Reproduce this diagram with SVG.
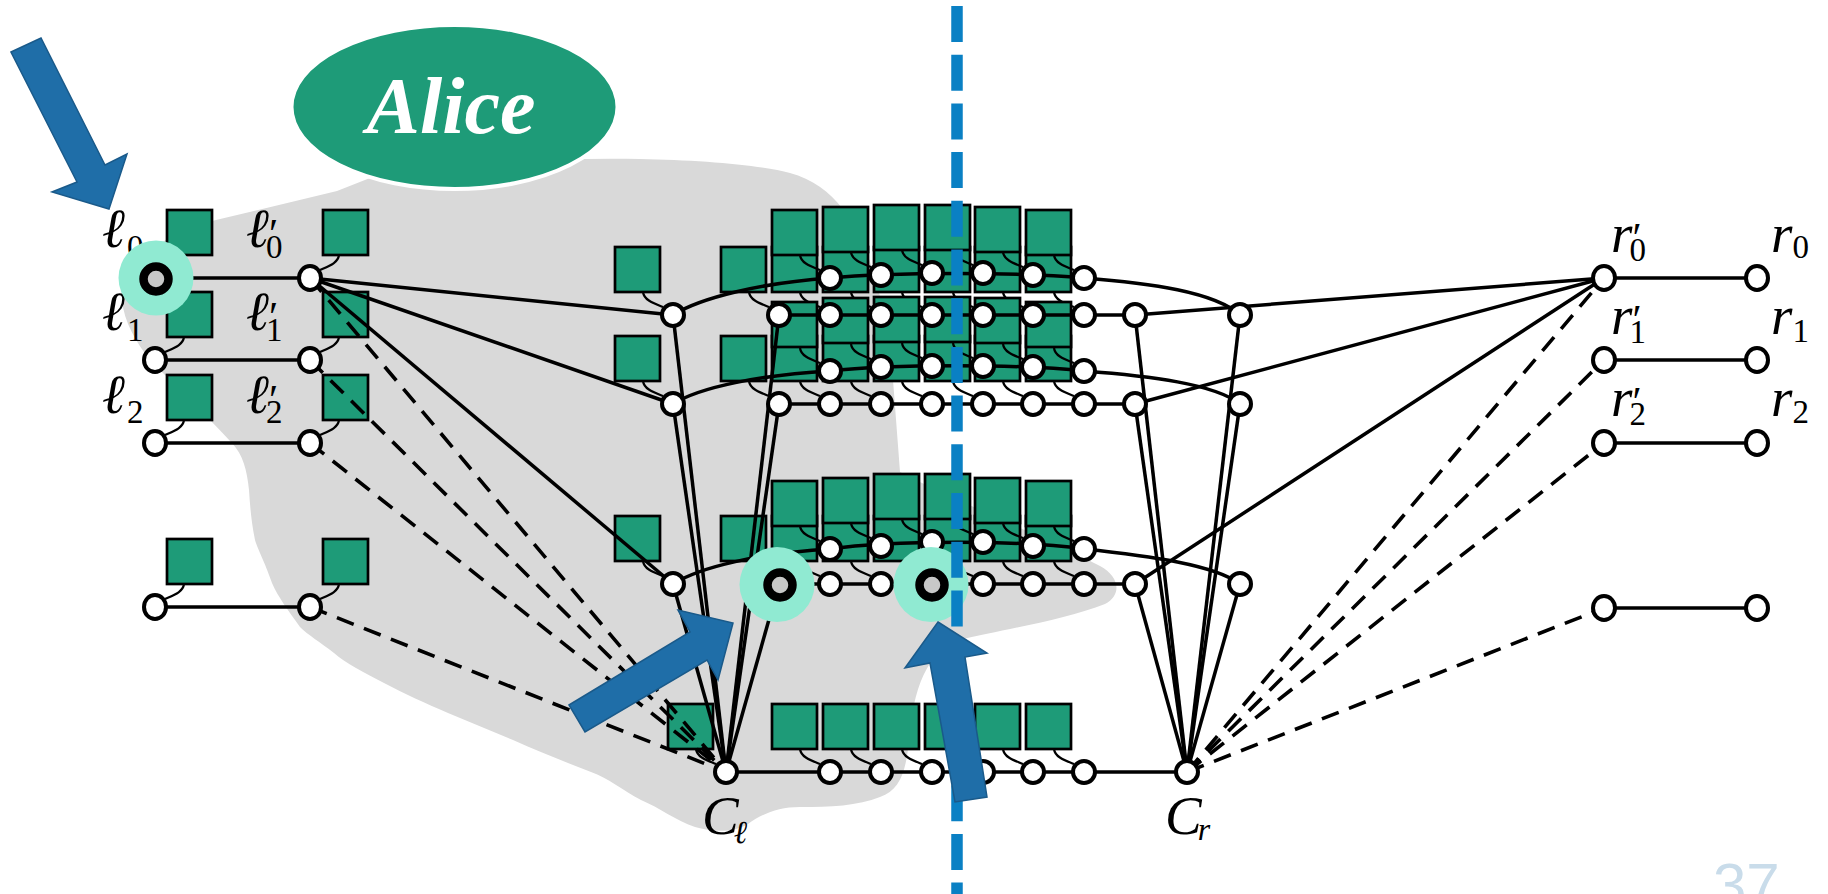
<svg xmlns="http://www.w3.org/2000/svg" xmlns:xlink="http://www.w3.org/1999/xlink" width="1828" height="894" viewBox="0 0 1828 894">
<style>
.sq{fill:#1E9B78;stroke:#000;stroke-width:2.7}
.cv{fill:none;stroke:#000;stroke-width:2.2}
.e{fill:none;stroke:#000;stroke-width:3.5}
.d{fill:none;stroke:#000;stroke-width:3.6;stroke-dasharray:18 11}
.n{fill:#fff;stroke:#000;stroke-width:4}
.m{font-family:"Liberation Serif","DejaVu Serif",serif;font-style:italic;font-size:55px;fill:#000}
.pr{font-style:normal;font-size:42px}
.sb{font-style:normal;font-size:33px}
.sl{font-style:italic;font-size:32px}
.hl{fill:#90EAD2}
.hr{fill:#C8C8C8;stroke:#000;stroke-width:8.5}
.ar{fill:#1F6EA8;stroke:#1A5A8A;stroke-width:1.5}
</style>
<defs>
<rect id="sq" class="sq" width="45" height="45"/>
<path id="cg" class="cv" d="M-30,-23c1,8 10,11 20,15"/>
<path id="cl" class="cv" d="M29,-23c-1,8 -10,11 -19,15"/>
</defs>

<path id="region" fill="#D9D9D9" d="M122,300 C126,262 165,232 216,220 L337,191 L370,178 C430,162 540,158 640,159 C700,160 760,165 790,173 C812,179 830,192 842,208 C868,240 886,300 893,380 L900,472 C950,498 1055,542 1100,566 C1120,577 1122,595 1105,604 C1065,620 1000,630 960,640 C927,650 913,690 909,740 C906,772 900,790 880,797 C858,806 830,807 800,807 C778,807 762,814 748,824 C733,833 712,832 695,827 C675,820 660,808 641,800 C622,790 608,778 591,772 C565,762 540,752 513,740 L448,713 C425,703 405,694 384,683 C365,673 345,663 334,653 C320,642 308,635 300,627 C288,610 278,597 272,583 C264,560 258,550 255,540 C251,520 250,505 249,490 C247,470 243,455 232,443 C213,422 175,385 150,360 C136,342 124,322 122,300 Z"/>

<g id="alice">
<ellipse cx="454.5" cy="107" rx="163" ry="82" fill="#1E9B78" stroke="#fff" stroke-width="4"/>
<text x="451" y="133" text-anchor="middle" font-family="Liberation Serif, DejaVu Serif, serif" font-style="italic" font-weight="bold" font-size="80" fill="#fff">Alice</text>
</g>

<g id="boxes">
<use xlink:href="#sq" x="167" y="210"/><use xlink:href="#cl" x="155" y="278"/>
<use xlink:href="#sq" x="167" y="292"/><use xlink:href="#cl" x="155" y="360"/>
<use xlink:href="#sq" x="167" y="375"/><use xlink:href="#cl" x="155" y="443"/>
<use xlink:href="#sq" x="167" y="539"/><use xlink:href="#cl" x="155" y="607"/>
<use xlink:href="#sq" x="323" y="210"/><use xlink:href="#cl" x="310" y="278"/>
<use xlink:href="#sq" x="323" y="292"/><use xlink:href="#cl" x="310" y="360"/>
<use xlink:href="#sq" x="323" y="375"/><use xlink:href="#cl" x="310" y="443"/>
<use xlink:href="#sq" x="323" y="539"/><use xlink:href="#cl" x="310" y="607"/>
<use xlink:href="#sq" x="615" y="247"/><use xlink:href="#cg" x="673" y="315"/>
<use xlink:href="#sq" x="721" y="247"/><use xlink:href="#cg" x="779" y="315"/>
<use xlink:href="#sq" x="772" y="247"/><use xlink:href="#cg" x="830" y="315"/>
<use xlink:href="#sq" x="823" y="247"/><use xlink:href="#cg" x="881" y="315"/>
<use xlink:href="#sq" x="874" y="247"/><use xlink:href="#cg" x="932" y="315"/>
<use xlink:href="#sq" x="925" y="247"/><use xlink:href="#cg" x="983" y="315"/>
<use xlink:href="#sq" x="975" y="247"/><use xlink:href="#cg" x="1033" y="315"/>
<use xlink:href="#sq" x="1026" y="247"/><use xlink:href="#cg" x="1084" y="315"/>
<use xlink:href="#sq" x="772" y="210"/><use xlink:href="#cg" x="830" y="278"/>
<use xlink:href="#sq" x="823" y="207"/><use xlink:href="#cg" x="881" y="275"/>
<use xlink:href="#sq" x="874" y="205"/><use xlink:href="#cg" x="932" y="273"/>
<use xlink:href="#sq" x="925" y="205"/><use xlink:href="#cg" x="983" y="273"/>
<use xlink:href="#sq" x="975" y="207"/><use xlink:href="#cg" x="1033" y="275"/>
<use xlink:href="#sq" x="1026" y="210"/><use xlink:href="#cg" x="1084" y="278"/>
<use xlink:href="#sq" x="615" y="336"/><use xlink:href="#cg" x="673" y="404"/>
<use xlink:href="#sq" x="721" y="336"/><use xlink:href="#cg" x="779" y="404"/>
<use xlink:href="#sq" x="772" y="336"/><use xlink:href="#cg" x="830" y="404"/>
<use xlink:href="#sq" x="823" y="336"/><use xlink:href="#cg" x="881" y="404"/>
<use xlink:href="#sq" x="874" y="336"/><use xlink:href="#cg" x="932" y="404"/>
<use xlink:href="#sq" x="925" y="336"/><use xlink:href="#cg" x="983" y="404"/>
<use xlink:href="#sq" x="975" y="336"/><use xlink:href="#cg" x="1033" y="404"/>
<use xlink:href="#sq" x="1026" y="336"/><use xlink:href="#cg" x="1084" y="404"/>
<use xlink:href="#sq" x="772" y="302"/><use xlink:href="#cg" x="830" y="371"/>
<use xlink:href="#sq" x="823" y="298"/><use xlink:href="#cg" x="881" y="367"/>
<use xlink:href="#sq" x="874" y="297"/><use xlink:href="#cg" x="932" y="366"/>
<use xlink:href="#sq" x="925" y="297"/><use xlink:href="#cg" x="983" y="366"/>
<use xlink:href="#sq" x="975" y="298"/><use xlink:href="#cg" x="1033" y="367"/>
<use xlink:href="#sq" x="1026" y="302"/><use xlink:href="#cg" x="1084" y="371"/>
<use xlink:href="#sq" x="615" y="516"/><use xlink:href="#cg" x="673" y="584"/>
<use xlink:href="#sq" x="721" y="516"/><use xlink:href="#cg" x="779" y="584"/>
<use xlink:href="#sq" x="772" y="516"/><use xlink:href="#cg" x="830" y="584"/>
<use xlink:href="#sq" x="823" y="516"/><use xlink:href="#cg" x="881" y="584"/>
<use xlink:href="#sq" x="874" y="516"/><use xlink:href="#cg" x="932" y="584"/>
<use xlink:href="#sq" x="925" y="516"/><use xlink:href="#cg" x="983" y="584"/>
<use xlink:href="#sq" x="975" y="516"/><use xlink:href="#cg" x="1033" y="584"/>
<use xlink:href="#sq" x="1026" y="516"/><use xlink:href="#cg" x="1084" y="584"/>
<use xlink:href="#sq" x="772" y="481"/><use xlink:href="#cg" x="830" y="549"/>
<use xlink:href="#sq" x="823" y="478"/><use xlink:href="#cg" x="881" y="546"/>
<use xlink:href="#sq" x="874" y="474"/><use xlink:href="#cg" x="932" y="542"/>
<use xlink:href="#sq" x="925" y="474"/><use xlink:href="#cg" x="983" y="542"/>
<use xlink:href="#sq" x="975" y="478"/><use xlink:href="#cg" x="1033" y="546"/>
<use xlink:href="#sq" x="1026" y="481"/><use xlink:href="#cg" x="1084" y="549"/>
<use xlink:href="#sq" x="668" y="704"/><use xlink:href="#cg" x="726" y="772"/>
<use xlink:href="#sq" x="772" y="704"/><use xlink:href="#cg" x="830" y="772"/>
<use xlink:href="#sq" x="823" y="704"/><use xlink:href="#cg" x="881" y="772"/>
<use xlink:href="#sq" x="874" y="704"/><use xlink:href="#cg" x="932" y="772"/>
<use xlink:href="#sq" x="925" y="704"/><use xlink:href="#cg" x="983" y="772"/>
<use xlink:href="#sq" x="975" y="704"/><use xlink:href="#cg" x="1033" y="772"/>
<use xlink:href="#sq" x="1026" y="704"/><use xlink:href="#cg" x="1084" y="772"/>
</g>

<g id="connectors">
<line class="e" x1="155" y1="278" x2="310" y2="278"/>
<line class="e" x1="155" y1="360" x2="310" y2="360"/>
<line class="e" x1="155" y1="443" x2="310" y2="443"/>
<line class="e" x1="155" y1="607" x2="310" y2="607"/>
<line class="e" x1="310" y1="278" x2="673" y2="315"/>
<line class="e" x1="310" y1="278" x2="673" y2="404"/>
<line class="e" x1="310" y1="278" x2="673" y2="584"/>
<line class="d" x1="310" y1="278" x2="726" y2="772"/>
<line class="d" x1="310" y1="360" x2="726" y2="772"/>
<line class="d" x1="310" y1="443" x2="726" y2="772"/>
<line class="d" x1="310" y1="607" x2="726" y2="772"/>
<line class="e" x1="673" y1="315" x2="726" y2="772"/>
<line class="e" x1="673" y1="404" x2="726" y2="772"/>
<line class="e" x1="673" y1="584" x2="726" y2="772"/>
<line class="e" x1="779" y1="315" x2="726" y2="772"/>
<line class="e" x1="779" y1="404" x2="726" y2="772"/>
<line class="e" x1="779" y1="584" x2="726" y2="772"/>
<line class="e" x1="779" y1="315" x2="1135" y2="315"/>
<line class="e" x1="779" y1="404" x2="1135" y2="404"/>
<line class="e" x1="779" y1="584" x2="1135" y2="584"/>
<line class="e" x1="726" y1="772" x2="1187" y2="772"/>
<path class="e" d="M673,315 C700,298 760,283 830,278 C890,272 1024,272 1084,278 C1150,283 1215,292 1240,315"/>
<path class="e" d="M673,404 C700,387 760,375 830,371 C890,364 1024,364 1084,371 C1150,376 1215,384 1240,404"/>
<path class="e" d="M673,584 C700,567 760,553 830,549 C890,540 1024,540 1084,549 C1150,556 1215,565 1240,584"/>
<line class="e" x1="1135" y1="315" x2="1604" y2="278"/>
<line class="e" x1="1135" y1="404" x2="1604" y2="278"/>
<line class="e" x1="1135" y1="584" x2="1604" y2="278"/>
<line class="e" x1="1135" y1="315" x2="1187" y2="772"/>
<line class="e" x1="1135" y1="404" x2="1187" y2="772"/>
<line class="e" x1="1135" y1="584" x2="1187" y2="772"/>
<line class="e" x1="1240" y1="315" x2="1187" y2="772"/>
<line class="e" x1="1240" y1="404" x2="1187" y2="772"/>
<line class="e" x1="1240" y1="584" x2="1187" y2="772"/>
<line class="d" x1="1187" y1="772" x2="1604" y2="278"/>
<line class="d" x1="1187" y1="772" x2="1604" y2="360"/>
<line class="d" x1="1187" y1="772" x2="1604" y2="443"/>
<line class="d" x1="1187" y1="772" x2="1604" y2="608"/>
<line class="e" x1="1604" y1="278" x2="1757" y2="278"/>
<line class="e" x1="1604" y1="360" x2="1757" y2="360"/>
<line class="e" x1="1604" y1="443" x2="1757" y2="443"/>
<line class="e" x1="1604" y1="608" x2="1757" y2="608"/>
</g>

<g id="nodes">
<g id="l0"><ellipse class="n" cx="155" cy="278" rx="11" ry="12"/><text class="m" x="102" y="247">ℓ<tspan class="sb" dx="2" dy="11">0</tspan></text></g>
<g id="l1"><ellipse class="n" cx="155" cy="360" rx="11" ry="12"/><text class="m" x="102" y="330">ℓ<tspan class="sb" dx="2" dy="11">1</tspan></text></g>
<g id="l2"><ellipse class="n" cx="155" cy="443" rx="11" ry="12"/><text class="m" x="102" y="413">ℓ<tspan class="sb" dx="2" dy="10">2</tspan></text></g>
<g id="l3"><ellipse class="n" cx="155" cy="607" rx="11" ry="12"/></g>
<g id="lp0"><ellipse class="n" cx="310" cy="278" rx="11" ry="12"/><text class="m" x="246" y="247">ℓ<tspan class="pr" dx="0" dy="1">′</tspan><tspan class="sb" dx="-12" dy="10">0</tspan></text></g>
<g id="lp1"><ellipse class="n" cx="310" cy="360" rx="11" ry="12"/><text class="m" x="246" y="330">ℓ<tspan class="pr" dx="0" dy="1">′</tspan><tspan class="sb" dx="-12" dy="10">1</tspan></text></g>
<g id="lp2"><ellipse class="n" cx="310" cy="443" rx="11" ry="12"/><text class="m" x="246" y="413">ℓ<tspan class="pr" dx="0" dy="1">′</tspan><tspan class="sb" dx="-12" dy="9">2</tspan></text></g>
<g id="lp3"><ellipse class="n" cx="310" cy="607" rx="11" ry="12"/></g>

<g id="x1a"><circle class="n" cx="673" cy="315" r="11"/></g>
<g id="x2a"><circle class="n" cx="779" cy="315" r="11"/></g>
<g id="g1a"><circle class="n" cx="830" cy="315" r="11"/></g>
<g id="g2a"><circle class="n" cx="881" cy="315" r="11"/></g>
<g id="g3a"><circle class="n" cx="932" cy="315" r="11"/></g>
<g id="g4a"><circle class="n" cx="983" cy="315" r="11"/></g>
<g id="g5a"><circle class="n" cx="1033" cy="315" r="11"/></g>
<g id="g6a"><circle class="n" cx="1084" cy="315" r="11"/></g>
<g id="x3a"><circle class="n" cx="1135" cy="315" r="11"/></g>
<g id="x4a"><circle class="n" cx="1240" cy="315" r="11"/></g>

<g id="g1b"><circle class="n" cx="830" cy="278" r="11"/></g>
<g id="g2b"><circle class="n" cx="881" cy="275" r="11"/></g>
<g id="g3b"><circle class="n" cx="932" cy="273" r="11"/></g>
<g id="g4b"><circle class="n" cx="983" cy="273" r="11"/></g>
<g id="g5b"><circle class="n" cx="1033" cy="275" r="11"/></g>
<g id="g6b"><circle class="n" cx="1084" cy="278" r="11"/></g>

<g id="x1c"><circle class="n" cx="673" cy="404" r="11"/></g>
<g id="x2c"><circle class="n" cx="779" cy="404" r="11"/></g>
<g id="g1c"><circle class="n" cx="830" cy="404" r="11"/></g>
<g id="g2c"><circle class="n" cx="881" cy="404" r="11"/></g>
<g id="g3c"><circle class="n" cx="932" cy="404" r="11"/></g>
<g id="g4c"><circle class="n" cx="983" cy="404" r="11"/></g>
<g id="g5c"><circle class="n" cx="1033" cy="404" r="11"/></g>
<g id="g6c"><circle class="n" cx="1084" cy="404" r="11"/></g>
<g id="x3c"><circle class="n" cx="1135" cy="404" r="11"/></g>
<g id="x4c"><circle class="n" cx="1240" cy="404" r="11"/></g>

<g id="g1d"><circle class="n" cx="830" cy="371" r="11"/></g>
<g id="g2d"><circle class="n" cx="881" cy="367" r="11"/></g>
<g id="g3d"><circle class="n" cx="932" cy="366" r="11"/></g>
<g id="g4d"><circle class="n" cx="983" cy="366" r="11"/></g>
<g id="g5d"><circle class="n" cx="1033" cy="367" r="11"/></g>
<g id="g6d"><circle class="n" cx="1084" cy="371" r="11"/></g>

<g id="x1e"><circle class="n" cx="673" cy="584" r="11"/></g>
<g id="x2e"><circle class="n" cx="779" cy="584" r="11"/></g>
<g id="g1e"><circle class="n" cx="830" cy="584" r="11"/></g>
<g id="g2e"><circle class="n" cx="881" cy="584" r="11"/></g>
<g id="g3e"><circle class="n" cx="932" cy="584" r="11"/></g>
<g id="g4e"><circle class="n" cx="983" cy="584" r="11"/></g>
<g id="g5e"><circle class="n" cx="1033" cy="584" r="11"/></g>
<g id="g6e"><circle class="n" cx="1084" cy="584" r="11"/></g>
<g id="x3e"><circle class="n" cx="1135" cy="584" r="11"/></g>
<g id="x4e"><circle class="n" cx="1240" cy="584" r="11"/></g>

<g id="g1f"><circle class="n" cx="830" cy="549" r="11"/></g>
<g id="g2f"><circle class="n" cx="881" cy="546" r="11"/></g>
<g id="g3f"><circle class="n" cx="932" cy="542" r="11"/></g>
<g id="g4f"><circle class="n" cx="983" cy="542" r="11"/></g>
<g id="g5f"><circle class="n" cx="1033" cy="546" r="11"/></g>
<g id="g6f"><circle class="n" cx="1084" cy="549" r="11"/></g>

<g id="c-l"><circle class="n" cx="726" cy="772" r="11"/><text class="m" x="702" y="834" font-size="50">C<tspan class="sl" dx="-5" dy="9">ℓ</tspan></text></g>
<g id="g1g"><circle class="n" cx="830" cy="772" r="11"/></g>
<g id="g2g"><circle class="n" cx="881" cy="772" r="11"/></g>
<g id="g3g"><circle class="n" cx="932" cy="772" r="11"/></g>
<g id="g4g"><circle class="n" cx="983" cy="772" r="11"/></g>
<g id="g5g"><circle class="n" cx="1033" cy="772" r="11"/></g>
<g id="g6g"><circle class="n" cx="1084" cy="772" r="11"/></g>
<g id="c-r"><circle class="n" cx="1187" cy="772" r="11"/><text class="m" x="1165" y="834" font-size="50">C<tspan class="sl" dx="-4" dy="6">r</tspan></text></g>

<g id="rp0"><ellipse class="n" cx="1604" cy="278" rx="11" ry="12"/><text class="m" x="1611" y="252">r<tspan class="pr" dx="0" dy="0">′</tspan><tspan class="sb" dx="-12" dy="9">0</tspan></text></g>
<g id="rp1"><ellipse class="n" cx="1604" cy="360" rx="11" ry="12"/><text class="m" x="1611" y="334">r<tspan class="pr" dx="0" dy="0">′</tspan><tspan class="sb" dx="-12" dy="9">1</tspan></text></g>
<g id="rp2"><ellipse class="n" cx="1604" cy="443" rx="11" ry="12"/><text class="m" x="1611" y="416">r<tspan class="pr" dx="0" dy="0">′</tspan><tspan class="sb" dx="-12" dy="9">2</tspan></text></g>
<g id="rp3"><ellipse class="n" cx="1604" cy="608" rx="11" ry="12"/></g>
<g id="r0"><ellipse class="n" cx="1757" cy="278" rx="11" ry="12"/><text class="m" x="1771" y="252">r<tspan class="sb" dx="0" dy="6">0</tspan></text></g>
<g id="r1"><ellipse class="n" cx="1757" cy="360" rx="11" ry="12"/><text class="m" x="1771" y="334">r<tspan class="sb" dx="0" dy="8">1</tspan></text></g>
<g id="r2"><ellipse class="n" cx="1757" cy="443" rx="11" ry="12"/><text class="m" x="1771" y="416">r<tspan class="sb" dx="0" dy="7">2</tspan></text></g>
<g id="r3"><ellipse class="n" cx="1757" cy="608" rx="11" ry="12"/></g>
</g>

<g id="highlights">
<circle class="hl" cx="156" cy="278" r="37.5"/>
<circle class="hr" cx="156" cy="279" r="12.5"/>
<circle class="hl" cx="777" cy="584.5" r="37.5"/>
<circle class="hr" cx="780" cy="585" r="12.5"/>
<circle class="hl" cx="931" cy="584.5" r="37.5"/>
<circle class="hr" cx="932" cy="585" r="12.5"/>
</g>

<line id="cut" x1="957" y1="6" x2="957" y2="894" stroke="#0A80C4" stroke-width="11.5" stroke-dasharray="36 12.7"/>

<g id="arrows">
<polygon class="ar" points="11,52 41,38 105,165 127,154 109,209 52,192 77,182"/>
<polygon class="ar" points="569,705 690,632 678,610 733,623 718,680 707,660 585,732"/>
<polygon class="ar" points="938,622 987,653 965,657 987,797 955,802 930,663 905,668"/>
</g>

<text x="1713" y="905" font-family="Liberation Sans, Arial, sans-serif" font-size="60" fill="#C9DCEA">37</text>
</svg>
